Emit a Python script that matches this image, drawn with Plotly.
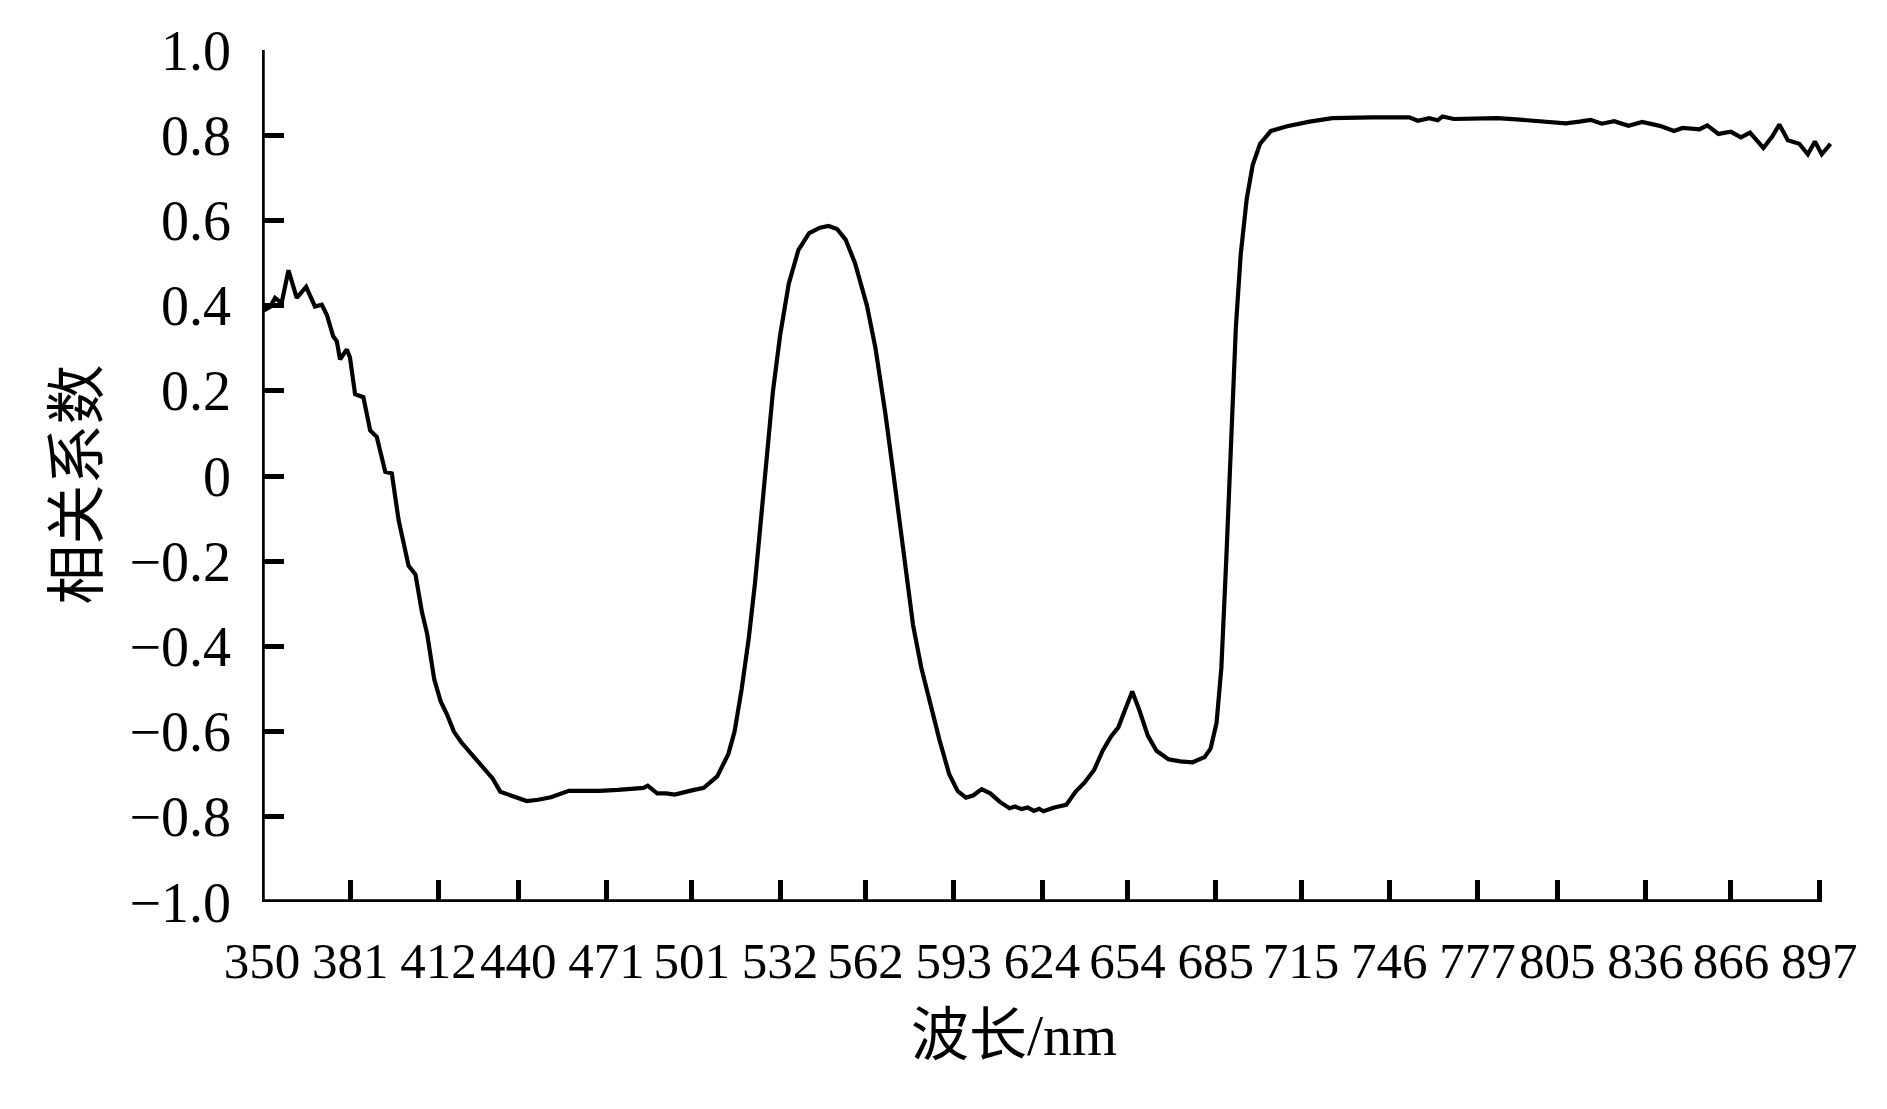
import plotly.graph_objects as go

# wavelength (nm) and correlation coefficient
wavelength = [350, 351, 352.8, 354.6, 356.9, 359.3, 362.2, 365.5, 368.6, 371, 372.8, 375, 376.3, 377.4,
              379.8, 380.9, 382.7, 385.6, 388, 390.3, 393.3, 395.6, 398, 401.5, 403.9, 406.2, 408,
              410.5, 412.8, 415, 417.4, 420, 423.6, 428.3, 431, 433.7, 437, 440.7, 443, 447, 451.5,
              457.8, 463, 468.6, 475, 480, 484, 485.5, 488.8, 492, 495, 501, 505.2, 509.9, 513.8,
              516, 518.5, 521, 523.2, 525.3, 527.4, 529.5, 532, 535, 538.4, 542.2, 546, 549,
              552, 555, 558.3, 562.5, 565.5, 568.9, 571.9, 575.3, 578.7, 581.6, 584.6, 588,
              591.4, 594.4, 597.3, 599.8, 602.8, 605.8, 609.2, 612.6, 614.5, 616.8, 619, 621.1,
              623, 624.5, 628.3, 632.5, 635.9, 638.9, 642.3, 645.3, 648.2, 650.8, 653.7, 655.7,
              658.2, 661.2, 664.2, 668.4, 672.6, 676.9, 681.1, 683.2, 685.3, 687, 688.7, 690.4,
              692.1, 693.8, 695.9, 698, 700.6, 704.4, 710.1, 718, 726,
              740, 753, 756, 760, 763, 764.7, 768.6, 776.5, 784, 790.7, 800, 808, 812.8, 816.7,
              820.6, 825, 830, 834.8, 841, 846, 849, 855, 857.7, 861.6, 866, 869.5, 872.7, 877.4,
              880.5, 883, 886, 890, 893, 895.5, 897.9, 901]
correlation = [0.39, 0.39, 0.397, 0.418, 0.406, 0.483, 0.418, 0.444, 0.398, 0.402, 0.378, 0.328, 0.316,
               0.274, 0.297, 0.278, 0.192, 0.185, 0.107, 0.092, 0.01, 0.006, -0.104, -0.211, -0.231,
               -0.32, -0.37, -0.477, -0.53, -0.56, -0.60, -0.625, -0.653, -0.688, -0.71, -0.741,
               -0.748, -0.758, -0.763, -0.76, -0.754, -0.739, -0.74, -0.739, -0.737, -0.735, -0.732,
               -0.727, -0.745, -0.745, -0.748, -0.738, -0.732, -0.705, -0.653,
               -0.60, -0.50, -0.38, -0.25, -0.10, 0.05, 0.20, 0.33, 0.45, 0.53, 0.57, 0.583, 0.587,
               0.58, 0.555, 0.50, 0.40, 0.30, 0.15, 0.0, -0.18, -0.35, -0.45, -0.53, -0.62,
               -0.70, -0.74, -0.755, -0.75, -0.735, -0.745, -0.765, -0.78, -0.776, -0.782, -0.778, -0.786,
               -0.781, -0.787, -0.778, -0.772, -0.74, -0.72, -0.69, -0.645, -0.612, -0.59, -0.54, -0.506,
               -0.55, -0.61, -0.645, -0.665, -0.67, -0.672, -0.66, -0.64, -0.58, -0.45, -0.2, 0.1,
               0.35, 0.52, 0.65, 0.73, 0.78, 0.81, 0.821, 0.832, 0.84,
               0.842, 0.842, 0.834, 0.84, 0.835, 0.844, 0.838, 0.84, 0.84,
               0.837, 0.833, 0.828, 0.832, 0.836, 0.827, 0.833, 0.822, 0.831, 0.822, 0.81, 0.817,
               0.814, 0.823, 0.803, 0.808, 0.795, 0.806, 0.77, 0.797, 0.825, 0.788, 0.78, 0.755,
               0.785, 0.755, 0.78]

x_ticks = [350, 381, 412, 440, 471, 501, 532, 562, 593, 624, 654, 685, 715, 746, 777, 805, 836, 866, 897]
y_ticks = [-1.0, -0.8, -0.6, -0.4, -0.2, 0, 0.2, 0.4, 0.6, 0.8, 1.0]
y_labels = ['\u22121.0', '\u22120.8', '\u22120.6', '\u22120.4', '\u22120.2', '0',
            '0.2', '0.4', '0.6', '0.8', '1.0']

FONT = 'Liberation Serif, Noto Sans CJK SC'

W, H = 1871, 1093
L, R, T, B = 254, 47, 35, 199
plot_w, plot_h = W - L - R, H - T - B

fig = go.Figure()

fig.add_trace(go.Scatter(x=wavelength, y=correlation,
                         mode='lines',
                         line=dict(color='#000', width=4.2),
                         showlegend=False))

# both axis lines as one path so the corner is joined; the bottom one stops at the last tick
fig.add_shape(type='path', xref='x', yref='y',
              path=f'M {x_ticks[0]},{y_ticks[-1]} L {x_ticks[0]},{y_ticks[0]} L {x_ticks[-1]},{y_ticks[0]}',
              line=dict(color='#000', width=5.5))

# axis titles
fig.add_annotation(text='波长/nm', xref='paper', yref='paper',
                   x=(1006 - L) / plot_w, y=1 - (1029 - T) / plot_h,
                   xanchor='center', yanchor='middle', showarrow=False,
                   font=dict(family=FONT, size=58))
fig.add_annotation(text='相关系数', xref='paper', yref='paper',
                   x=(70 - L) / plot_w, y=1 - (473 - T) / plot_h,
                   xanchor='center', yanchor='middle', showarrow=False, textangle=-90,
                   font=dict(family=FONT, size=60))

fig.update_layout(
    width=W, height=H,
    margin=dict(l=L, r=R, t=T, b=B),
    paper_bgcolor='white',
    plot_bgcolor='white',
    font=dict(family=FONT, color='#000', size=50))

fig.update_xaxes(range=[350, 901.5],
                 showline=False, showgrid=False, zeroline=False,
                 tickmode='array', tickvals=x_ticks, ticktext=[str(t) for t in x_ticks],
                 tickangle=0,
                 ticks='inside', ticklen=22, tickwidth=5, tickcolor='#000',
                 tickfont=dict(family=FONT, size=51),
                 ticklabelstandoff=24)

fig.update_yaxes(range=[-1, 1],
                 showline=False, showgrid=False, zeroline=False,
                 tickmode='array', tickvals=y_ticks, ticktext=y_labels,
                 ticks='inside', ticklen=22, tickwidth=5, tickcolor='#000',
                 tickfont=dict(family=FONT, size=56),
                 ticklabelstandoff=30)

fig.write_html("out.html")
